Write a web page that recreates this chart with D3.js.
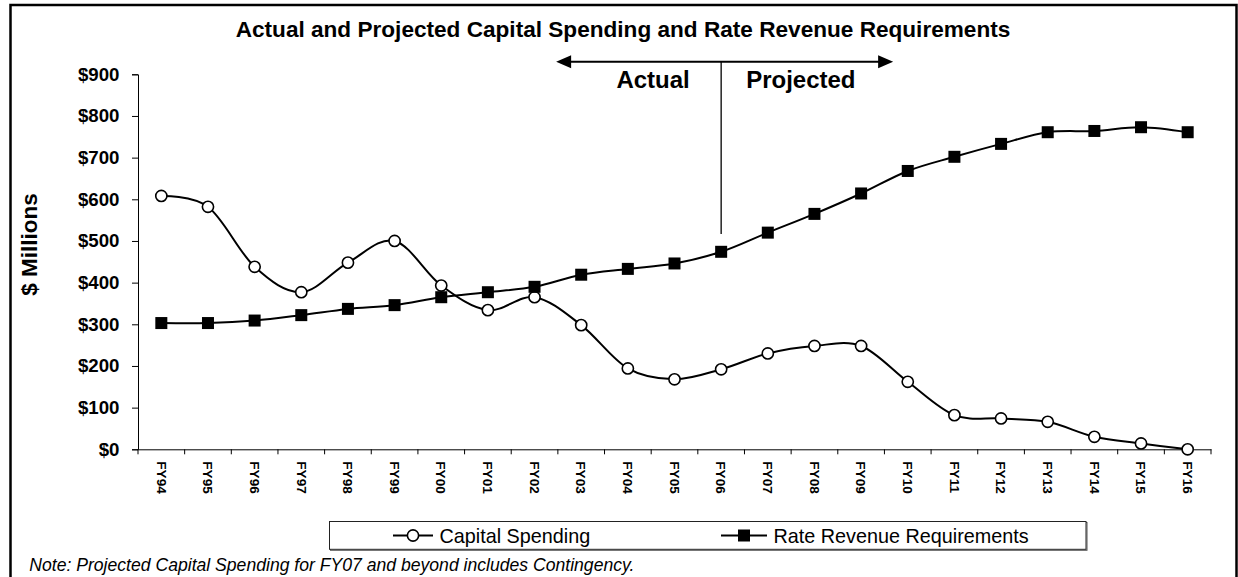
<!DOCTYPE html>
<html>
<head>
<meta charset="utf-8">
<script src="https://cdn.jsdelivr.net/npm/d3@7"></script>
<style>
  html, body { margin: 0; padding: 0; background: #fff; }
  svg { display: block; font-family: "Liberation Sans", Arial, Helvetica, sans-serif; }
</style>
</head>
<body>
<svg id="chart" width="1238" height="577"></svg>
<script>
// Fiscal years on the category axis
const years = ["FY94", "FY95", "FY96", "FY97", "FY98", "FY99", "FY00", "FY01", "FY02", "FY03",
               "FY04", "FY05", "FY06", "FY07", "FY08", "FY09", "FY10", "FY11", "FY12", "FY13",
               "FY14", "FY15", "FY16"];

// $ millions
const capitalSpending = [608, 582, 438, 377, 448, 500, 393, 334, 365, 298,
                         194, 168, 192, 230, 248, 248, 162, 82, 74, 66,
                         30, 14, 0];
const rateRevenue = [303, 303, 309, 322, 337, 346, 365, 377, 390, 419,
                     433, 446, 474, 520, 565, 614, 668, 702, 733, 761,
                     764, 773, 761];

const yTicks = [0, 100, 200, 300, 400, 500, 600, 700, 800, 900];
const seriesNames = ["Capital Spending", "Rate Revenue Requirements"];
const titleText = "Actual and Projected Capital Spending and Rate Revenue Requirements";
const noteText = "Note: Projected Capital Spending for FY07 and beyond includes Contingency.";
const splitYear = "FY06";

const plot = { left: 138, right: 1211, top: 74.3, bottom: 449.3 };
const svg = d3.select("#chart");

// outer frame
svg.append("rect")
  .attr("x", 10.5).attr("y", 5).attr("width", 1226).attr("height", 620)
  .attr("fill", "#fff").attr("stroke", "#000").attr("stroke-width", 2.5);

const x = d3.scaleBand().domain(years).range([plot.left, plot.right]).padding(0);
const cx = d => x(d) + x.bandwidth() / 2;
const y = d3.scaleLinear().domain([0, 900]).range([plot.bottom, plot.top]);

// title
svg.append("text")
  .attr("x", 623).attr("y", 37)
  .attr("text-anchor", "middle")
  .attr("font-size", 22.6).attr("font-weight", "bold")
  .text(titleText);

// y axis
const gy = svg.append("g")
  .attr("transform", `translate(${plot.left},0)`)
  .call(d3.axisLeft(y).tickValues(yTicks).tickSize(6).tickPadding(12.5).tickFormat(d => "$" + d));
gy.select(".domain").attr("stroke", "#000");
gy.selectAll(".tick line").attr("stroke", "#000");
gy.selectAll(".tick text")
  .attr("font-family", null)
  .attr("font-size", 18.7).attr("font-weight", "bold").attr("fill", "#000");

svg.append("text")
  .attr("transform", "translate(37,244.5) rotate(-90)")
  .attr("text-anchor", "middle")
  .attr("font-size", 22.5).attr("font-weight", "bold")
  .text("$ Millions");

// x axis: labels centred on categories, tick marks between them
const gx = svg.append("g")
  .attr("transform", `translate(0,${plot.bottom})`)
  .call(d3.axisBottom(x).tickSize(0).tickSizeOuter(0));
gx.select(".domain").attr("stroke", "#000");
gx.selectAll(".tick text")
  .attr("font-family", null)
  .attr("transform", "rotate(90)")
  .attr("text-anchor", "start")
  .attr("x", 12).attr("y", 0).attr("dy", "0.35em")
  .attr("font-size", 13.6).attr("font-weight", "bold").attr("fill", "#000");
gx.selectAll(".boundary")
  .data(d3.range(years.length + 1))
  .join("line")
  .attr("class", "boundary")
  .attr("x1", i => plot.left + i * x.bandwidth())
  .attr("x2", i => plot.left + i * x.bandwidth())
  .attr("y1", 0).attr("y2", 5)
  .attr("stroke", "#000");

// smoothed series lines
const line = d3.line()
  .x((d, i) => cx(years[i]))
  .y(d => y(d))
  .curve(d3.curveCatmullRom.alpha(0));

const drawCircle = (sel) => sel.append("circle").attr("r", 5.6)
  .attr("fill", "#fff").attr("stroke", "#000").attr("stroke-width", 1.6);
const drawSquare = (sel) => sel.append("rect")
  .attr("x", -6).attr("y", -6).attr("width", 12).attr("height", 12)
  .attr("fill", "#000");

svg.append("path").datum(capitalSpending)
  .attr("d", line).attr("fill", "none").attr("stroke", "#000").attr("stroke-width", 2);
svg.append("g").selectAll("g")
  .data(capitalSpending).join("g")
  .attr("transform", (d, i) => `translate(${cx(years[i])},${y(d)})`)
  .each(function () { drawCircle(d3.select(this)); });

svg.append("path").datum(rateRevenue)
  .attr("d", line).attr("fill", "none").attr("stroke", "#000").attr("stroke-width", 2);
svg.append("g").selectAll("g")
  .data(rateRevenue).join("g")
  .attr("transform", (d, i) => `translate(${cx(years[i])},${y(d)})`)
  .each(function () { drawSquare(d3.select(this)); });

// actual / projected divider with double arrow
const sx = cx(splitYear);
const arrowY = 61.7;
const ann = svg.append("g");
ann.append("line")
  .attr("x1", sx).attr("x2", sx).attr("y1", arrowY).attr("y2", 234)
  .attr("stroke", "#000").attr("stroke-width", 1.3);
ann.append("line")
  .attr("x1", sx - 152).attr("x2", sx + 158).attr("y1", arrowY).attr("y2", arrowY)
  .attr("stroke", "#000").attr("stroke-width", 2);
ann.append("path")
  .attr("d", `M${sx - 165},${arrowY} L${sx - 150},${arrowY - 6.5} L${sx - 150},${arrowY + 6.5} Z`)
  .attr("fill", "#000");
ann.append("path")
  .attr("d", `M${sx + 172},${arrowY} L${sx + 157},${arrowY - 6.5} L${sx + 157},${arrowY + 6.5} Z`)
  .attr("fill", "#000");
ann.append("text")
  .attr("x", sx - 31.4).attr("y", 88.3).attr("text-anchor", "end")
  .attr("font-size", 24).attr("font-weight", "bold").text("Actual");
ann.append("text")
  .attr("x", sx + 25).attr("y", 88.3).attr("text-anchor", "start")
  .attr("font-size", 24).attr("font-weight", "bold").text("Projected");

// legend box with a faint drop shadow on the lower-right edges
const legend = svg.append("g");
legend.append("rect")
  .attr("x", 330.5).attr("y", 522.5).attr("width", 756.5).attr("height", 27.8)
  .attr("fill", "none").attr("stroke", "#555").attr("stroke-width", 1);
legend.append("rect")
  .attr("x", 329.5).attr("y", 521.5).attr("width", 756.5).attr("height", 27.8)
  .attr("fill", "#fff").attr("stroke", "#222").attr("stroke-width", 1);
const legendItems = [
  { name: seriesNames[0], x0: 393, x1: 433, draw: drawCircle },
  { name: seriesNames[1], x0: 721, x1: 767, draw: drawSquare }
];
const ly = 535.5;
legendItems.forEach(it => {
  const g = legend.append("g");
  g.append("line").attr("x1", it.x0).attr("x2", it.x1).attr("y1", ly).attr("y2", ly)
    .attr("stroke", "#000").attr("stroke-width", 2);
  it.draw(g.append("g").attr("transform", `translate(${(it.x0 + it.x1) / 2},${ly})`));
  g.append("text").attr("x", it.x1 + 6.5).attr("y", 542.8)
    .attr("font-size", 19.8).text(it.name);
});

// footnote
svg.append("text")
  .attr("x", 29.3).attr("y", 570.7)
  .attr("font-size", 17.6).attr("font-style", "italic")
  .text(noteText);
</script>
</body>
</html>
